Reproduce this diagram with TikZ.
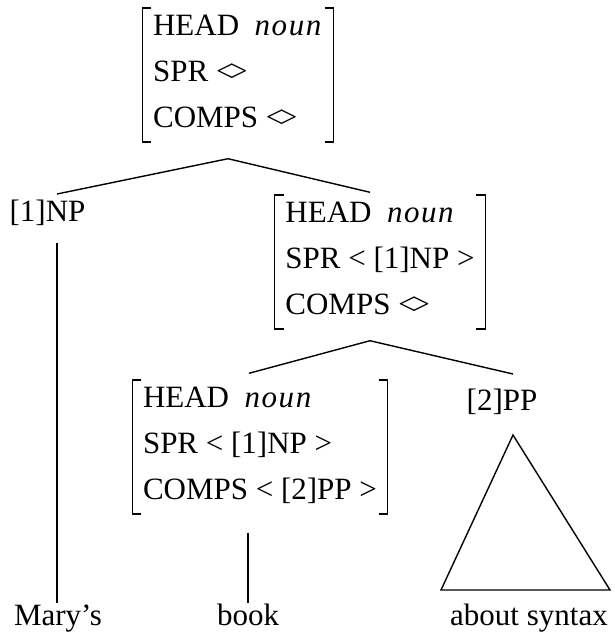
\documentclass[tikz,border=0pt]{standalone}
\usepackage{fontspec}
\setmainfont{Liberation Serif}

% feature structure: one left-aligned row per feature
\newcommand{\avm}[1]{\begin{tabular}{@{}l@{}}#1\end{tabular}}
\renewcommand{\arraystretch}{1.36}
\newcommand{\val}[1]{\textit{\addfontfeature{LetterSpace=5}#1}}
\newcommand{\elist}{<\kern-3.5pt>}

\tikzset{
	avm/.style   = {inner xsep=10pt, inner ysep=0pt},
	word/.style  = {inner sep=0pt, anchor=base},
	branch/.style= {line width=1.4pt},
}

\begin{document}
\begin{tikzpicture}[x=1pt, y=-1pt, line width=1.3pt,
	font=\fontsize{31}{34}\selectfont]
	\useasboundingbox (0,0) rectangle (615,635);

	\node (top) at (238, 72)	[avm]	{\avm{HEAD\hspace{0.5em}\val{noun}\\ SPR \elist\\ COMPS \elist}};
	\node (np1) at (47.5, 221)	[word]	{[1]NP};
	\node (mid) at (380, 259)	[avm]	{\avm{HEAD\hspace{0.5em}\val{noun}\\ SPR < [1]NP >\\ COMPS \elist}};
	\node (low) at (260, 444)	[avm]	{\avm{HEAD\hspace{0.5em}\val{noun}\\ SPR < [1]NP >\\ COMPS < [2]PP >}};
	\node (pp2) at (502, 410)	[word]	{[2]PP};
	\node (mary) at (58, 625)	[word]	{Mary’s};
	\node (book) at (248, 625)	[word]	{book};
	\node (syn) at (529, 625)	[word]	{about syntax};

	% square brackets round the feature structures
	\foreach \n in {top, mid, low} {
		\draw ([xshift=9pt, yshift=-6pt]\n.north west) -- ([yshift=-6pt]\n.north west)
			-- (\n.south west) -- ([xshift=9pt]\n.south west);
		\draw ([xshift=-9pt, yshift=-6pt]\n.north east) -- ([yshift=-6pt]\n.north east)
			-- (\n.south east) -- ([xshift=-9pt]\n.south east);
	}

	% branches
	\draw[branch] ([xshift=9.5pt, yshift=27pt]np1.base) -- ([xshift=-10pt, yshift=-16.7pt]top.south)
		-- ([xshift=-10pt, yshift=-3.3pt]mid.north);
	\draw[branch] ([xshift=-11pt, yshift=0.7pt]low.north) -- ([xshift=-10pt, yshift=-11.7pt]mid.south)
		-- ([xshift=11pt, yshift=36pt]pp2.base);
	\draw[branch] ([xshift=9.5pt, yshift=-22pt]np1.base) -- ([xshift=-1pt, yshift=22pt]mary.base);
	\draw[branch] ([xshift=-12pt, yshift=-18.7pt]low.south) -- ([yshift=22pt]book.base);
	\draw[branch] ([xshift=11pt, yshift=-25pt]pp2.base) -- ([xshift=-88pt, yshift=35pt]syn.base)
		-- ([xshift=81pt, yshift=35pt]syn.base) -- cycle;
\end{tikzpicture}
\end{document}
